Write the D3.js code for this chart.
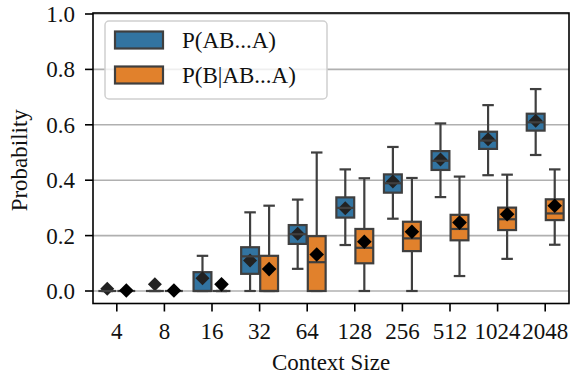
<!DOCTYPE html>
<html>
<head>
<meta charset="utf-8">
<script src="https://cdn.jsdelivr.net/npm/d3@7"></script>
<style>
  html, body { margin: 0; padding: 0; background: #fff; }
  svg { display: block; font-family: "Liberation Serif", "Times New Roman", serif; }
</style>
</head>
<body>
<svg id="chart" width="571" height="374"></svg>
<script>
// Context sizes along the x axis
const contexts = ["4", "8", "16", "32", "64", "128", "256", "512", "1024", "2048"];
const yTicks = [0, 0.2, 0.4, 0.6, 0.8, 1.0];

// P(AB...A): whisker low, Q1, median, Q3, whisker high, mean
const abaLow  = [0, 0, 0,     0,     0.080, 0.166, 0.261, 0.339, 0.418, 0.491];
const abaQ1   = [0, 0, 0,     0.062, 0.170, 0.265, 0.355, 0.437, 0.513, 0.579];
const abaMed  = [0, 0, 0,     0.125, 0.205, 0.300, 0.389, 0.470, 0.543, 0.609];
const abaQ3   = [0, 0, 0.068, 0.158, 0.238, 0.338, 0.421, 0.505, 0.575, 0.640];
const abaHigh = [0, 0, 0.127, 0.284, 0.330, 0.439, 0.520, 0.605, 0.671, 0.729];
const abaMean = [0.008, 0.024, 0.046, 0.110, 0.207, 0.299, 0.395, 0.475, 0.548, 0.615];

// P(B|AB...A)
const bLow  = [0, 0, 0, 0,     0,     0,     0,     0.054, 0.116, 0.167];
const bQ1   = [0, 0, 0, 0,     0,     0.100, 0.144, 0.183, 0.220, 0.256];
const bMed  = [0, 0, 0, 0,     0.104, 0.156, 0.190, 0.224, 0.259, 0.280];
const bQ3   = [0, 0, 0, 0.127, 0.198, 0.224, 0.250, 0.275, 0.301, 0.331];
const bHigh = [0, 0, 0, 0.308, 0.500, 0.407, 0.408, 0.413, 0.420, 0.439];
const bMean = [0.002, 0.002, 0.024, 0.079, 0.132, 0.178, 0.214, 0.247, 0.277, 0.308];

const seriesNames = ["P(AB...A)", "P(B|AB...A)"];
const seriesColors = ["#3274a1", "#e1812c"];

const series = [
  { name: seriesNames[0], color: seriesColors[0], meanColor: "#222222", meanR: 7,
    low: abaLow, q1: abaQ1, med: abaMed, q3: abaQ3, high: abaHigh, mean: abaMean, medianOnTop: true },
  { name: seriesNames[1], color: seriesColors[1], meanColor: "#000000", meanR: 7.3,
    low: bLow, q1: bQ1, med: bMed, q3: bQ3, high: bHigh, mean: bMean, medianOnTop: false }
];

const svg = d3.select("#chart");
const plotLeft = 93, plotRight = 569, plotTop = 13, plotBottom = 303.5;
const edge = "#3f3f3f";
const lw = 2.2;
const fontSize = 23;

const x = d3.scaleBand().domain(contexts).range([plotLeft, plotRight]).padding(0);
const hue = d3.scaleBand().domain([0, 1]).range([0, x.bandwidth() * 0.8]);
const y = d3.scaleLinear().domain([0, 1]).range([291, 14]);

// Gridlines
svg.append("g").selectAll("line").data(yTicks).join("line")
  .attr("x1", plotLeft).attr("x2", plotRight)
  .attr("y1", d => y(d)).attr("y2", d => y(d))
  .attr("stroke", "#b0b0b0").attr("stroke-width", 1.6);

// Boxes
const boxW = hue.bandwidth();
const capW = 11.5;
series.forEach((s, si) => {
  const g = svg.append("g");
  contexts.forEach((c, i) => {
    const cx = x(c) + x.bandwidth() * 0.1 + hue(si) + boxW / 2;
    // whiskers
    g.append("line").attr("x1", cx).attr("x2", cx)
      .attr("y1", y(s.q3[i])).attr("y2", y(s.high[i]))
      .attr("stroke", edge).attr("stroke-width", lw);
    g.append("line").attr("x1", cx).attr("x2", cx)
      .attr("y1", y(s.q1[i])).attr("y2", y(s.low[i]))
      .attr("stroke", edge).attr("stroke-width", lw);
    // caps
    [s.high[i], s.low[i]].forEach(v => {
      g.append("line").attr("x1", cx - capW / 2).attr("x2", cx + capW / 2)
        .attr("y1", y(v)).attr("y2", y(v))
        .attr("stroke", edge).attr("stroke-width", lw);
    });
    // box
    g.append("rect")
      .attr("x", cx - boxW / 2 + 0.6).attr("width", boxW - 1.2)
      .attr("y", y(s.q3[i])).attr("height", Math.max(0, y(s.q1[i]) - y(s.q3[i])))
      .attr("fill", s.color).attr("stroke", edge).attr("stroke-width", lw);

    const drawMedian = () => g.append("line")
      .attr("x1", cx - boxW / 2 + 0.6).attr("x2", cx + boxW / 2 - 0.6)
      .attr("y1", y(s.med[i])).attr("y2", y(s.med[i]))
      .attr("stroke", edge).attr("stroke-width", lw);
    const drawMean = () => {
      const my = y(s.mean[i]), r = s.meanR;
      g.append("path")
        .attr("d", `M${cx},${my - r}L${cx + r},${my}L${cx},${my + r}L${cx - r},${my}Z`)
        .attr("fill", s.meanColor);
    };
    if (s.medianOnTop) { drawMean(); drawMedian(); }
    else { drawMedian(); drawMean(); }
  });
});

// Frame
svg.append("rect")
  .attr("x", plotLeft).attr("y", plotTop)
  .attr("width", plotRight - plotLeft).attr("height", plotBottom - plotTop)
  .attr("fill", "none").attr("stroke", "#000").attr("stroke-width", 1.6);

// Y axis
const yAxis = svg.append("g");
yTicks.forEach(t => {
  yAxis.append("line").attr("x1", plotLeft - 8).attr("x2", plotLeft)
    .attr("y1", y(t)).attr("y2", y(t)).attr("stroke", "#000").attr("stroke-width", 1.6);
  yAxis.append("text").attr("x", plotLeft - 18).attr("y", y(t)).attr("dy", "0.35em")
    .attr("text-anchor", "end").attr("font-size", fontSize).attr("fill", "#111")
    .text(d3.format(".1f")(t));
});
svg.append("text")
  .attr("transform", `translate(27,${(plotTop + plotBottom) / 2 + 2}) rotate(-90)`)
  .attr("text-anchor", "middle").attr("font-size", fontSize).attr("fill", "#111")
  .text("Probability");

// X axis
const xAxis = svg.append("g");
contexts.forEach(c => {
  const cx = x(c) + x.bandwidth() / 2;
  xAxis.append("line").attr("x1", cx).attr("x2", cx)
    .attr("y1", plotBottom).attr("y2", plotBottom + 8).attr("stroke", "#000").attr("stroke-width", 1.6);
  xAxis.append("text").attr("x", cx).attr("y", 339)
    .attr("text-anchor", "middle").attr("font-size", fontSize).attr("fill", "#111")
    .text(c);
});
svg.append("text")
  .attr("x", (plotLeft + plotRight) / 2).attr("y", 370)
  .attr("text-anchor", "middle").attr("font-size", fontSize).attr("fill", "#111")
  .text("Context Size");

// Legend
const lg = svg.append("g");
lg.append("rect").attr("x", 105).attr("y", 21).attr("width", 222).attr("height", 78)
  .attr("rx", 4).attr("fill", "#fff").attr("fill-opacity", 0.8)
  .attr("stroke", "#d0d0d0").attr("stroke-width", 1.5);
series.forEach((s, i) => {
  const cy = 40 + i * 35;
  lg.append("rect").attr("x", 115).attr("y", cy - 8.5).attr("width", 48).attr("height", 17)
    .attr("fill", s.color).attr("stroke", edge).attr("stroke-width", lw);
  lg.append("text").attr("x", 182).attr("y", cy).attr("dy", "0.35em")
    .attr("font-size", fontSize).attr("fill", "#111").text(s.name);
});
</script>
</body>
</html>
